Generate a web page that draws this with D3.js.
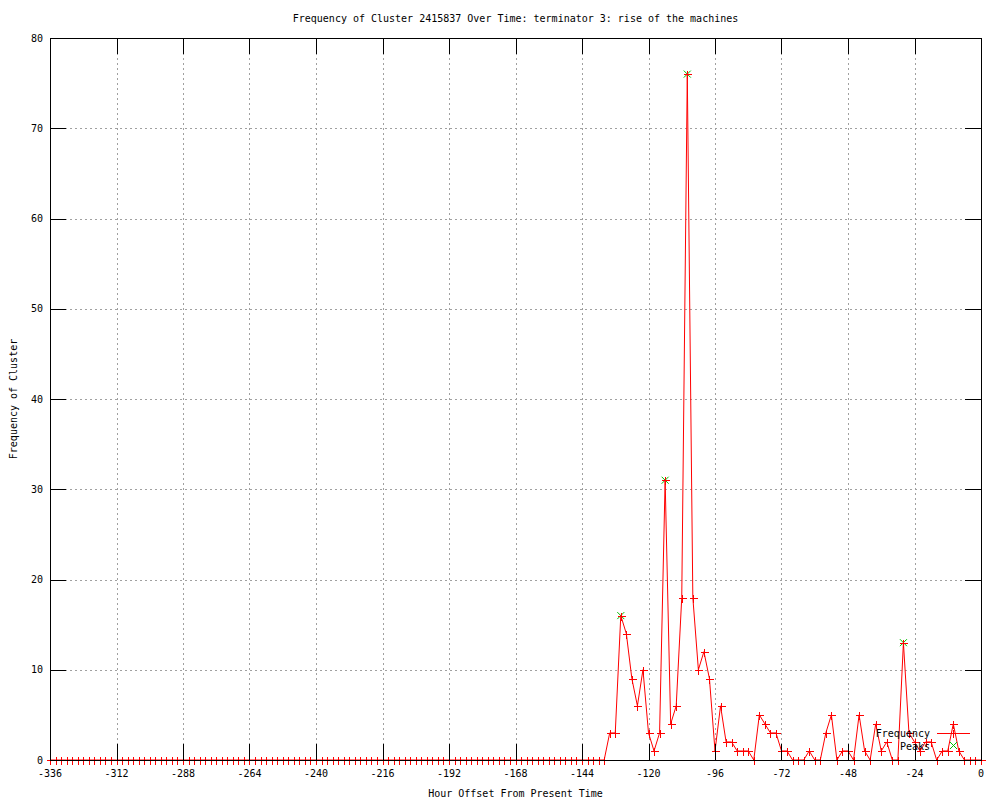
<!DOCTYPE html>
<html>
<head>
<meta charset="utf-8">
<script src="https://cdn.jsdelivr.net/npm/d3@7"></script>
<style>
  body { margin: 0; background: #fff; }
  text { font-family: "DejaVu Sans Mono", monospace; font-size: 10px; fill: #000; }
</style>
</head>
<body>
<svg id="chart" width="1000" height="800"></svg>
<script>
// hour offsets (every 2 hours)
const hours = [
  -336, -334, -332, -330, -328, -326, -324, -322, -320, -318, -316, -314,
  -312, -310, -308, -306, -304, -302, -300, -298, -296, -294, -292, -290,
  -288, -286, -284, -282, -280, -278, -276, -274, -272, -270, -268, -266,
  -264, -262, -260, -258, -256, -254, -252, -250, -248, -246, -244, -242,
  -240, -238, -236, -234, -232, -230, -228, -226, -224, -222, -220, -218,
  -216, -214, -212, -210, -208, -206, -204, -202, -200, -198, -196, -194,
  -192, -190, -188, -186, -184, -182, -180, -178, -176, -174, -172, -170,
  -168, -166, -164, -162, -160, -158, -156, -154, -152, -150, -148, -146,
  -144, -142, -140, -138, -136, -134, -132, -130, -128, -126, -124, -122,
  -120, -118, -116, -114, -112, -110, -108, -106, -104, -102, -100, -98,
  -96, -94, -92, -90, -88, -86, -84, -82, -80, -78, -76, -74,
  -72, -70, -68, -66, -64, -62, -60, -58, -56, -54, -52, -50,
  -48, -46, -44, -42, -40, -38, -36, -34, -32, -30, -28, -26,
  -24, -22, -20, -18, -16, -14, -12, -10, -8, -6, -4, -2,
  0
];

const frequency = [
  0, 0, 0, 0, 0, 0, 0, 0, 0, 0, 0, 0,
  0, 0, 0, 0, 0, 0, 0, 0, 0, 0, 0, 0,
  0, 0, 0, 0, 0, 0, 0, 0, 0, 0, 0, 0,
  0, 0, 0, 0, 0, 0, 0, 0, 0, 0, 0, 0,
  0, 0, 0, 0, 0, 0, 0, 0, 0, 0, 0, 0,
  0, 0, 0, 0, 0, 0, 0, 0, 0, 0, 0, 0,
  0, 0, 0, 0, 0, 0, 0, 0, 0, 0, 0, 0,
  0, 0, 0, 0, 0, 0, 0, 0, 0, 0, 0, 0,
  0, 0, 0, 0, 0, 3, 3, 16, 14, 9, 6, 10,
  3, 1, 3, 31, 4, 6, 18, 76, 18, 10, 12, 9,
  1, 6, 2, 2, 1, 1, 1, 0, 5, 4, 3, 3,
  1, 1, 0, 0, 0, 1, 0, 0, 3, 5, 0, 1,
  1, 0, 5, 1, 0, 4, 1, 2, 0, 0, 13, 3,
  2, 1, 2, 2, 0, 1, 1, 4, 1, 0, 0, 0,
  0
];

const peakHours = [-130, -114, -106, -28];
const peakValues = [16, 31, 76, 13];

const xTicks = [-336, -312, -288, -264, -240, -216, -192, -168, -144, -120, -96, -72, -48, -24, 0];
const yTicks = [0, 10, 20, 30, 40, 50, 60, 70, 80];

const title = "Frequency of Cluster 2415837 Over Time: terminator 3: rise of the machines";
const xTitle = "Hour Offset From Present Time";
const yTitle = "Frequency of Cluster";

// plot box
const box = {left: 50, right: 981, top: 38, bottom: 760};
const tickLen = 16;
const red = "#ff0000", green = "#00c000", grey = "#a0a0a0";

const svg = d3.select("#chart");

const x = d3.scaleLinear().domain([-336, 0]).range([box.left, box.right]);
const y = d3.scaleLinear().domain([0, 80]).range([box.bottom, box.top]);

const points = hours.map((h, i) => ({h: h, v: frequency[i]}));
const peaks = peakHours.map((h, i) => ({h: h, v: peakValues[i]}));

// grid
const grid = svg.append("g")
    .attr("stroke", grey)
    .attr("stroke-dasharray", "2,3")
    .attr("shape-rendering", "crispEdges");

grid.selectAll("line.gx")
  .data(xTicks.filter(t => t !== -336 && t !== 0))
  .enter().append("line")
    .attr("x1", d => Math.round(x(d)) + 0.5)
    .attr("x2", d => Math.round(x(d)) + 0.5)
    .attr("y1", box.top)
    .attr("y2", box.bottom);

grid.selectAll("line.gy")
  .data(yTicks.filter(t => t !== 0 && t !== 80))
  .enter().append("line")
    .attr("y1", d => Math.round(y(d)) + 0.5)
    .attr("y2", d => Math.round(y(d)) + 0.5)
    .attr("x1", box.left)
    .attr("x2", box.right);

// marker shapes
const xMark = (px, py, s) =>
  `M${px - s},${py - s}L${px + s},${py + s}M${px - s},${py + s}L${px + s},${py - s}`;
const plusMark = (px, py, s) =>
  `M${px - s},${py}L${px + s},${py}M${px},${py - s}L${px},${py + s}`;

// peaks (green x)
svg.append("g").selectAll("path")
  .data(peaks)
  .enter().append("path")
    .attr("d", d => xMark(x(d.h), y(d.v), 3.5))
    .attr("stroke", green)
    .attr("fill", "none");

// frequency line
const line = d3.line()
    .x(d => x(d.h))
    .y(d => y(d.v));

svg.append("path")
    .datum(points)
    .attr("d", line)
    .attr("fill", "none")
    .attr("stroke", red)
    .attr("stroke-width", 1);

svg.append("g").selectAll("path")
  .data(points)
  .enter().append("path")
    .attr("d", d => plusMark(Math.round(x(d.h)) + 0.5, Math.round(y(d.v)) + 0.5, 4))
    .attr("stroke", red)
    .attr("shape-rendering", "crispEdges")
    .attr("fill", "none");

// border + ticks (drawn on top like gnuplot)
const axes = svg.append("g")
    .attr("stroke", "#000")
    .attr("shape-rendering", "crispEdges");

axes.append("rect")
    .attr("x", box.left + 0.5)
    .attr("y", box.top + 0.5)
    .attr("width", box.right - box.left)
    .attr("height", box.bottom - box.top)
    .attr("fill", "none");

xTicks.forEach(t => {
  const px = Math.round(x(t)) + 0.5;
  axes.append("line").attr("x1", px).attr("x2", px).attr("y1", box.bottom).attr("y2", box.bottom - tickLen);
  axes.append("line").attr("x1", px).attr("x2", px).attr("y1", box.top).attr("y2", box.top + tickLen);
});
yTicks.forEach(t => {
  const py = Math.round(y(t)) + 0.5;
  axes.append("line").attr("y1", py).attr("y2", py).attr("x1", box.left).attr("x2", box.left + tickLen);
  axes.append("line").attr("y1", py).attr("y2", py).attr("x1", box.right).attr("x2", box.right - tickLen);
});

// tick labels
svg.append("g").selectAll("text")
  .data(xTicks)
  .enter().append("text")
    .attr("x", d => x(d))
    .attr("y", 773)
    .attr("dy", "0.35em")
    .attr("text-anchor", "middle")
    .text(d => d);

svg.append("g").selectAll("text")
  .data(yTicks)
  .enter().append("text")
    .attr("x", 43)
    .attr("y", d => y(d))
    .attr("dy", "0.35em")
    .attr("text-anchor", "end")
    .text(d => d);

// titles
svg.append("text")
    .attr("x", (box.left + box.right) / 2)
    .attr("y", 18)
    .attr("dy", "0.35em")
    .attr("text-anchor", "middle")
    .text(title);

svg.append("text")
    .attr("x", (box.left + box.right) / 2)
    .attr("y", 793)
    .attr("dy", "0.35em")
    .attr("text-anchor", "middle")
    .text(xTitle);

svg.append("text")
    .attr("transform", `translate(13,${(box.top + box.bottom) / 2}) rotate(-90)`)
    .attr("dy", "0.35em")
    .attr("text-anchor", "middle")
    .text(yTitle);

// key (bottom right, inside the box)
const key = svg.append("g");
key.append("text")
    .attr("x", 930).attr("y", 733).attr("dy", "0.35em")
    .attr("text-anchor", "end")
    .text("Frequency");
key.append("path")
    .attr("d", "M937,733.5L970,733.5")
    .attr("fill", "none")
    .attr("stroke", red)
    .attr("stroke-width", 1)
    .attr("shape-rendering", "crispEdges");
key.append("path")
    .attr("d", plusMark(953.5, 733.5, 4))
    .attr("fill", "none")
    .attr("stroke", red)
    .attr("shape-rendering", "crispEdges");
key.append("text")
    .attr("x", 930).attr("y", 746).attr("dy", "0.35em")
    .attr("text-anchor", "end")
    .text("Peaks");
key.append("path")
    .attr("d", xMark(953.5, 745.5, 3.5))
    .attr("stroke", green)
    .attr("fill", "none");
</script>
</body>
</html>
